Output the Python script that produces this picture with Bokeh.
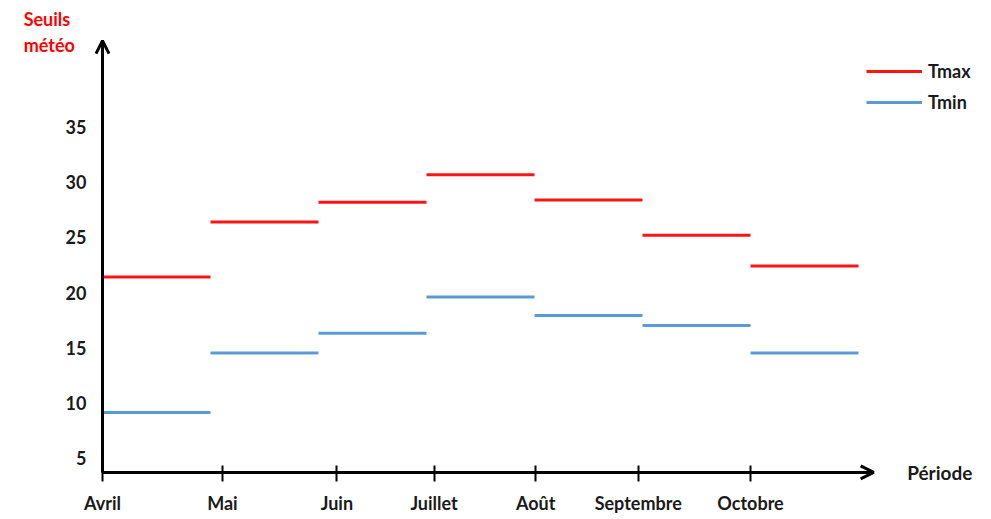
from bokeh.plotting import figure
from bokeh.models import (Range1d, FixedTicker, Arrow, OpenHead, Label, Legend,
                          LegendItem, ColumnDataSource)
from bokeh.embed import file_html
from bokeh.resources import INLINE

# ---- data ----
months = ["Avril", "Mai", "Juin", "Juillet", "Août", "Septembre", "Octobre"]
month_tick_pos = [0, 1.11, 2.17, 3.07, 4.01, 4.96, 6.0]
tmax = [21.4, 26.4, 28.2, 30.7, 28.4, 25.2, 22.4]
tmin = [9.1, 14.5, 16.3, 19.6, 17.9, 17.0, 14.5]
y_ticks = [5, 10, 15, 20, 25, 30, 35]

FONT = "Lato"
TXT = "#1a1a1a"

# x-axis base level and arrow tips (data units)
y_base = 3.64
y_arrow_tip = 42.9
x_arrow_tip = 7.14

idx = list(range(len(months)))
src = ColumnDataSource(dict(
    x0=[i for i in idx],
    x1=[i + 1 for i in idx],
    tmax=tmax,
    tmin=tmin,
))

p = figure(width=991, height=519,
           x_range=Range1d(-0.9444, 8.231), y_range=Range1d(-0.636, 46.545),
           output_backend="svg", toolbar_location=None,
           min_border_left=0, min_border_right=0,
           min_border_top=0, min_border_bottom=0)
p.outline_line_color = None
p.xgrid.visible = False
p.ygrid.visible = False

r_max = p.segment(x0="x0", x1="x1", y0="tmax", y1="tmax", source=src,
                  line_color="#ff1414", line_width=3)
r_min = p.segment(x0="x0", x1="x1", y0="tmin", y1="tmin", source=src,
                  line_color="#5b9bd5", line_width=3)

# x axis (drawn inside the frame at the base level)
xa = p.xaxis[0]
xa.fixed_location = y_base
xa.ticker = FixedTicker(ticks=month_tick_pos)
xa.major_label_overrides = {t: m for t, m in zip(month_tick_pos, months)}
xa.axis_line_color = None
xa.major_tick_line_width = 2
xa.major_tick_line_color = "black"
xa.major_tick_in = 7
xa.major_tick_out = 9
xa.minor_tick_line_color = None
xa.major_label_standoff = 11
xa.major_label_text_font = FONT
xa.major_label_text_font_style = "bold"
xa.major_label_text_font_size = "18px"
xa.major_label_text_color = TXT

# y axis
ya = p.yaxis[0]
ya.fixed_location = 0
ya.ticker = FixedTicker(ticks=y_ticks)
ya.axis_line_color = None
ya.major_tick_line_color = None
ya.minor_tick_line_color = None
ya.major_tick_in = 0
ya.major_tick_out = 0
ya.major_label_standoff = 16
ya.major_label_text_font = FONT
ya.major_label_text_font_style = "bold"
ya.major_label_text_font_size = "18px"
ya.major_label_text_color = TXT

# axis arrows
p.add_layout(Arrow(end=OpenHead(size=13, line_width=3, line_color="black"),
                   x_start=0, y_start=y_base, x_end=0, y_end=y_arrow_tip,
                   line_width=3, line_color="black"))
p.add_layout(Arrow(end=OpenHead(size=13, line_width=3, line_color="black"),
                   x_start=0, y_start=y_base, x_end=x_arrow_tip, y_end=y_base,
                   line_width=3, line_color="black"))

# axis titles
p.add_layout(Label(x=7.45, y=y_base, text="Période", text_font=FONT,
                   text_font_style="bold", text_font_size="19px",
                   text_color=TXT, text_baseline="middle", text_align="left"))
p.add_layout(Label(x=-0.73, y=44.9, text="Seuils", text_font=FONT,
                   text_font_style="bold", text_font_size="18px",
                   text_color="#ff0000", text_baseline="middle", text_align="left"))
p.add_layout(Label(x=-0.73, y=42.5, text="météo", text_font=FONT,
                   text_font_style="bold", text_font_size="18px",
                   text_color="#ff0000", text_baseline="middle", text_align="left"))

legend = Legend(items=[LegendItem(label="Tmax", renderers=[r_max]),
                       LegendItem(label="Tmin", renderers=[r_min])],
                location=(866, 406), glyph_width=56, glyph_height=20,
                label_height=20, spacing=9, padding=0, margin=0,
                border_line_color=None, background_fill_alpha=0,
                label_standoff=6, label_text_font=FONT,
                label_text_font_style="bold", label_text_font_size="18px",
                label_text_color=TXT)
p.add_layout(legend)

open("out.html", "w").write(file_html(p, INLINE))
